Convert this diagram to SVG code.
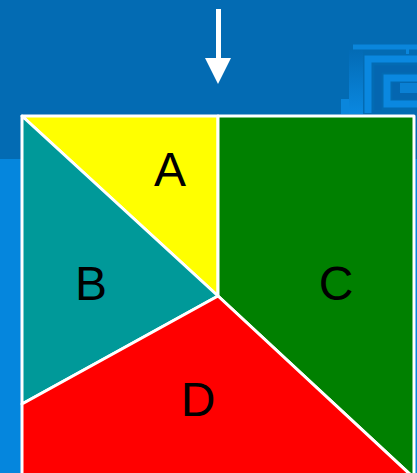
<svg xmlns="http://www.w3.org/2000/svg" width="417" height="473" viewBox="0 0 417 473">
<defs>
<style>
.piece{stroke:#ffffff;stroke-width:3;stroke-linejoin:round}
.lbl{font-family:"Liberation Sans",Arial,sans-serif;font-size:48px;fill:#000000;text-anchor:middle}
.deco{fill:none;stroke-width:7}
</style>
<linearGradient id="g1" x1="0" y1="0" x2="0" y2="1">
<stop offset="0" stop-color="#036bb5"/>
<stop offset="1" stop-color="#0a88e0"/>
</linearGradient>
</defs>
<rect width="417" height="473" fill="#036bb3"/>
<rect x="0" y="159" width="417" height="314" fill="#0586dd"/>
<g id="decoration">
<rect x="353" y="44.5" width="64" height="5" fill="#0a86dc"/>
<rect x="406" y="49" width="3" height="5" fill="#0a86dc"/>
<rect x="349" y="50" width="14" height="64" fill="url(#g1)"/>
<rect x="341" y="99" width="8" height="15" fill="#0a86dc"/>
<path d="M417 59 H368 V113" class="deco" stroke="#0a88e0" stroke-width="10"/>
<path d="M417 69 H378 V110" class="deco" stroke="#0466b0" stroke-width="8"/>
<path d="M417 78 H387 V104 H417" class="deco" stroke="#0a88e0" stroke-width="8"/>
<path d="M417 86 H396 V96 H417" class="deco" stroke="#0466b0" stroke-width="6"/>
<rect x="400" y="83" width="17" height="10" fill="#0a80d4"/>
</g>
<g id="arrow">
<rect x="216" y="9" width="5" height="50" fill="#ffffff"/>
<polygon points="205,58 231,58 218,84" fill="#ffffff"/>
</g>
<g id="nodeA">
<polygon class="piece" points="22,116 218,116 218,296" fill="#ffff00"/>
<text class="lbl" x="170" y="186">A</text>
</g>
<g id="nodeB">
<polygon class="piece" points="22,116 218,296 22,404" fill="#009999"/>
<text class="lbl" x="91" y="300">B</text>
</g>
<g id="nodeC">
<polygon class="piece" points="218,116 414,116 414,478 218,296" fill="#008000"/>
<text class="lbl" x="336" y="300">C</text>
</g>
<g id="nodeD">
<polygon class="piece" points="22,404 218,296 414,478 414,480 22,480" fill="#ff0000"/>
<text class="lbl" x="198" y="416">D</text>
</g>
</svg>
